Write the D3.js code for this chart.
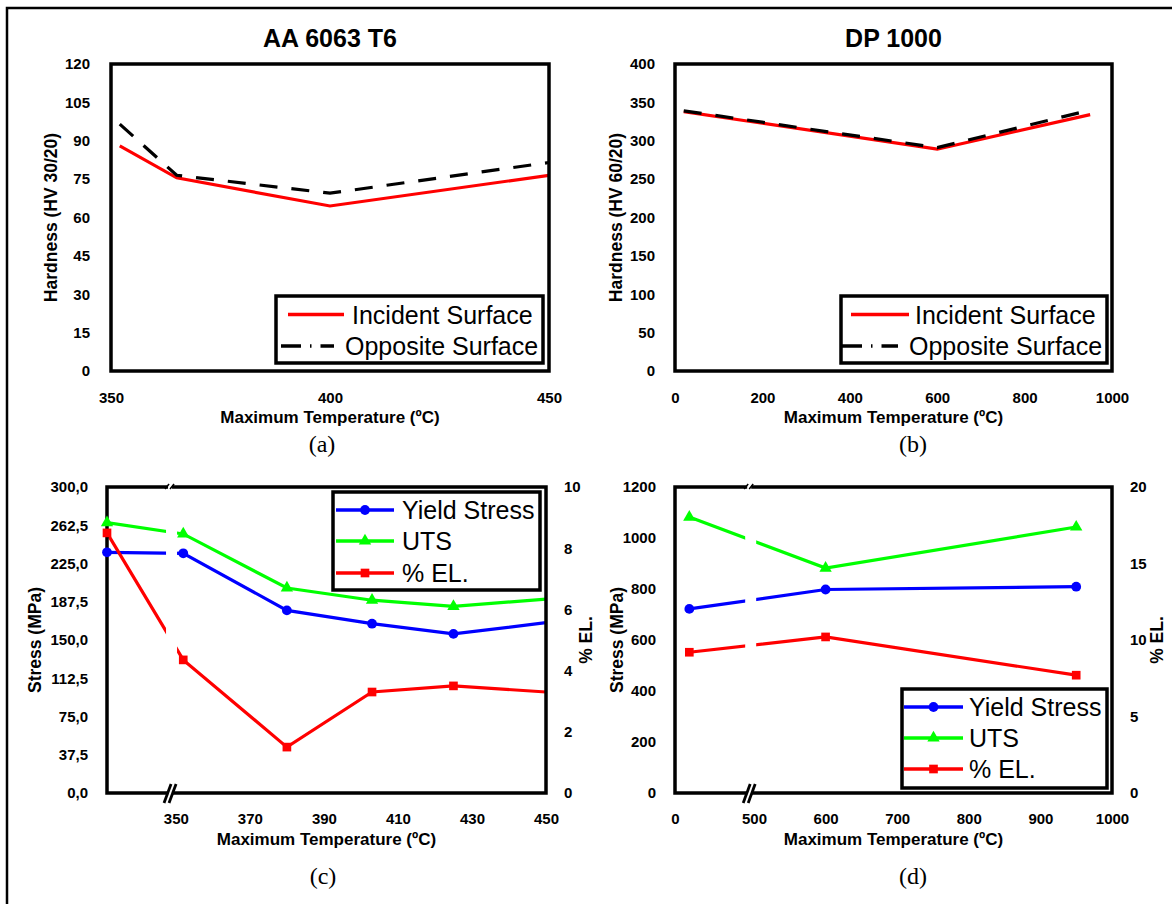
<!DOCTYPE html>
<html>
<head>
<meta charset="utf-8">
<script src="https://cdn.jsdelivr.net/npm/d3@7"></script>
<style>
body { margin: 0; background: #fff; }
</style>
</head>
<body>
<div id="canvas"></div>
<script>
"use strict"

/* values (estimated where not exact) */

// (a) AA 6063 T6 hardness
let tempA = [352, 365, 400, 450];
let incidentA = [88, 75.5, 64.5, 76.5];
let oppositeA = [96.5, 76.5, 69.5, 81.5];
let xTicksA = [350, 400, 450];
let yTicksA = [0, 15, 30, 45, 60, 75, 90, 105, 120];

// (b) DP 1000 hardness
let tempB = [20, 600, 950];
let incidentB = [338, 289, 334];
let oppositeB = [339, 291, 340];
let xTicksB = [0, 200, 400, 600, 800, 1000];
let yTicksB = [0, 50, 100, 150, 200, 250, 300, 350, 400];

// (c) AA 6063 T6 tensile (first point = base metal, left of the axis break)
let tempC = [20, 352, 380, 403, 425, 450];
let yieldC = [236, 235, 179, 166, 156, 167];
let utsC = [265, 254, 201, 189, 183, 190];
let elongC = [8.5, 4.35, 1.5, 3.3, 3.5, 3.3];
let xTicksC = [350, 370, 390, 410, 430, 450];
let yTicksC = [0, 37.5, 75, 112.5, 150, 187.5, 225, 262.5, 300];
let elTicksC = [0, 2, 4, 6, 8, 10];

// (d) DP 1000 tensile
let tempD = [20, 600, 950];
let yieldD = [722, 798, 809];
let utsD = [1082, 882, 1043];
let elongD = [9.2, 10.2, 7.7];
let xTicksD = [0, 500, 600, 700, 800, 900, 1000];
let yTicksD = [0, 200, 400, 600, 800, 1000, 1200];
let elTicksD = [0, 5, 10, 15, 20];

let surfaceNames = ["Incident Surface", "Opposite Surface"];
let tensileNames = ["Yield Stress", "UTS", "% EL."];

const RED = "#ff0000", BLUE = "#0000ff", GREEN = "#00ff00";
const SANS = "Liberation Sans, Arial, sans-serif";
const SERIF = "Liberation Serif, Times New Roman, serif";
const OPP_DASH = "18,14";

let drawing = d3.select("#canvas")
    .append("svg")
    .attr("width", 1172)
    .attr("height", 904)
    .style("font-family", SANS);

// outer frame (only top and left edges are in the picture)
drawing.append("path")
    .attr("d", "M7,904 V8 H1172")
    .attr("fill", "none")
    .attr("stroke", "black")
    .attr("stroke-width", 2.5);

// scale with a gap: lo and hi are the two visible domain pieces, same px per unit
function brokenScale(lo, hi, w) {
    let k = w / ((lo[1] - lo[0]) + (hi[1] - hi[0]));
    let b = k * (lo[1] - lo[0]);
    let s = d3.scaleLinear().domain([lo[0], lo[1], hi[0], hi[1]]).range([0, b, b, w]);
    s.breakAt = b;
    return s;
}

let commaFmt = d => d3.format(".1f")(d).replace(".", ",");
let plainFmt = d3.format("d");

function markerPath(type, size) {
    let t = type == "circle" ? d3.symbolCircle : type == "triangle" ? d3.symbolTriangle : d3.symbolSquare;
    return d3.symbol().type(t).size(size)();
}
let markerSize = { circle: 75, triangle: 66, square: 75 };

let clipCount = 0;

function styleTicks(sel) {
    sel.select(".domain").remove();
    sel.selectAll("text")
        .attr("font-size", 15)
        .attr("font-weight", "bold")
        .attr("font-family", SANS)
        .attr("fill", "black");
}

function panel(cfg) {
    let g = drawing.append("g").attr("transform", `translate(${cfg.left},${cfg.top})`);
    let w = cfg.w, h = cfg.h;

    // axes (no tick marks, just labels, like the original)
    let yAxis = d3.axisLeft(cfg.y).tickValues(cfg.yTicks).tickSize(0).tickPadding(cfg.yPad)
        .tickFormat(cfg.yFmt || plainFmt);
    g.append("g").call(yAxis).call(styleTicks);

    let xAxis = d3.axisBottom(cfg.x).tickValues(cfg.xTicks).tickSize(0).tickPadding(cfg.xPad)
        .tickFormat(plainFmt);
    g.append("g").attr("transform", `translate(0,${h})`).call(xAxis).call(styleTicks);

    if (cfg.y2) {
        let y2Axis = d3.axisRight(cfg.y2).tickValues(cfg.y2Ticks).tickSize(0).tickPadding(18)
            .tickFormat(plainFmt);
        g.append("g").attr("transform", `translate(${w},0)`).call(y2Axis).call(styleTicks);
        g.append("text")
            .attr("transform", `translate(${cfg.y2TitleX},${h / 2}) rotate(-90)`)
            .attr("text-anchor", "middle").attr("font-size", 17.5).attr("font-weight", "bold")
            .text("% EL.");
    }

    // titles
    if (cfg.title) {
        g.append("text").attr("x", w / 2).attr("y", -17)
            .attr("text-anchor", "middle").attr("font-size", 25).attr("font-weight", "bold")
            .text(cfg.title);
    }
    g.append("text").attr("x", w / 2).attr("y", h + cfg.xTitleY)
        .attr("text-anchor", "middle").attr("font-size", 17).attr("font-weight", "bold")
        .text("Maximum Temperature (ºC)");
    g.append("text")
        .attr("transform", `translate(${cfg.yTitleX},${h / 2}) rotate(-90)`)
        .attr("text-anchor", "middle").attr("font-size", 17.5).attr("font-weight", "bold")
        .text(cfg.yTitle);
    g.append("text").attr("x", cfg.labelX).attr("y", h + cfg.labelY)
        .attr("text-anchor", "middle").attr("font-size", 24)
        .style("font-family", SERIF)
        .text(cfg.label);

    // data lines, clipped to the plot frame
    let clipId = "clip" + (clipCount++);
    g.append("clipPath").attr("id", clipId)
        .append("rect").attr("x", 0).attr("y", 0).attr("width", w).attr("height", h);
    let plot = g.append("g").attr("clip-path", `url(#${clipId})`);

    cfg.series.forEach(s => {
        let ys = s.axis == "y2" ? cfg.y2 : cfg.y;
        let pts = s.xs.map((v, i) => [v, s.ys[i]]);
        let line = d3.line().x(d => cfg.x(d[0])).y(d => ys(d[1]));
        plot.append("path")
            .attr("d", line(pts))
            .attr("fill", "none")
            .attr("stroke", s.color)
            .attr("stroke-width", 3.2)
            .attr("stroke-dasharray", s.dash || null);
    });

    // white gap in the data lines at the axis break
    if (cfg.x.breakAt !== undefined) {
        plot.append("rect")
            .attr("x", cfg.x.breakAt - 5).attr("y", 3)
            .attr("width", 11).attr("height", h - 6)
            .attr("fill", "white");
    }

    // plot frame
    g.append("rect")
        .attr("width", w).attr("height", h)
        .attr("fill", "none").attr("stroke", "black").attr("stroke-width", 3.5);

    // markers sit on top of the frame (not clipped); the run-out point at the right edge has none
    cfg.series.forEach(s => {
        if (!s.marker) return;
        let ys = s.axis == "y2" ? cfg.y2 : cfg.y;
        let maxX = cfg.x.domain()[cfg.x.domain().length - 1];
        let pts = s.xs.map((v, i) => [v, s.ys[i]]).filter(d => d[0] < maxX);
        g.selectAll(null)
            .data(pts)
            .enter().append("path")
            .attr("d", markerPath(s.marker, markerSize[s.marker]))
            .attr("transform", d => `translate(${cfg.x(d[0])},${ys(d[1])})`)
            .attr("fill", s.color);
    });

    // axis break marks
    if (cfg.x.breakAt !== undefined) {
        let b = cfg.x.breakAt;
        g.append("path")
            .attr("d", `M${b - 7},${h + 10} L${b - 1},${h - 8} L${b + 4},${h - 8} L${b - 2},${h + 10} Z`)
            .attr("fill", "white");
        [-7, -2].forEach(dx => {
            g.append("line")
                .attr("x1", b + dx).attr("y1", h + 10)
                .attr("x2", b + dx + 7).attr("y2", h - 9)
                .attr("stroke", "black").attr("stroke-width", 2.8);
        });
        g.append("rect").attr("x", b - 3).attr("y", -3).attr("width", 4).attr("height", 6).attr("fill", "white");
        [-4, 1].forEach(dx => {
            g.append("line")
                .attr("x1", b + dx - 2).attr("y1", 2)
                .attr("x2", b + dx + 2).attr("y2", -3)
                .attr("stroke", "black").attr("stroke-width", 1.5);
        });
    }

    // legend
    let L = cfg.legend;
    drawing.append("rect")
        .attr("x", L.x).attr("y", L.y).attr("width", L.w).attr("height", L.h)
        .attr("fill", "white").attr("stroke", "black").attr("stroke-width", 3.5);
    L.rows.forEach((r, i) => {
        let s = cfg.series[i];
        drawing.append("line")
            .attr("x1", r.x0).attr("x2", r.x1).attr("y1", r.y).attr("y2", r.y)
            .attr("stroke", s.color).attr("stroke-width", 3.5)
            .attr("stroke-dasharray", s.dash ? "20,9,1.5,9" : null);
        if (s.marker) {
            drawing.append("path")
                .attr("d", markerPath(s.marker, markerSize[s.marker]))
                .attr("transform", `translate(${(r.x0 + r.x1) / 2},${r.y})`)
                .attr("fill", s.color);
        }
        drawing.append("text")
            .attr("x", r.tx).attr("y", r.y + 9)
            .attr("font-size", 25)
            .text(s.name);
    });
}

// (a)
panel({
    left: 111, top: 64, w: 438, h: 307,
    x: d3.scaleLinear().domain([350, 450]).range([0, 438]),
    y: d3.scaleLinear().domain([0, 120]).range([307, 0]),
    xTicks: xTicksA, yTicks: yTicksA, yPad: 21, xPad: 21,
    title: "AA 6063 T6", yTitle: "Hardness (HV 30/20)", yTitleX: -54,
    xTitleY: 52, label: "(a)", labelX: 211, labelY: 81,
    series: [
        { name: surfaceNames[0], xs: tempA, ys: incidentA, color: RED },
        { name: surfaceNames[1], xs: tempA, ys: oppositeA, color: "black", dash: OPP_DASH }
    ],
    legend: { x: 276, y: 296, w: 267, h: 67, rows: [
        { x0: 288, x1: 344, y: 314.5, tx: 352 },
        { x0: 281, x1: 334, y: 346, tx: 345 }
    ] }
});

// (b)
panel({
    left: 675, top: 64, w: 437, h: 307,
    x: d3.scaleLinear().domain([0, 1000]).range([0, 437]),
    y: d3.scaleLinear().domain([0, 400]).range([307, 0]),
    xTicks: xTicksB, yTicks: yTicksB, yPad: 20, xPad: 21,
    title: "DP 1000", yTitle: "Hardness (HV 60/20)", yTitleX: -53,
    xTitleY: 52, label: "(b)", labelX: 238, labelY: 81,
    series: [
        { name: surfaceNames[0], xs: tempB, ys: incidentB, color: RED },
        { name: surfaceNames[1], xs: tempB, ys: oppositeB, color: "black", dash: OPP_DASH }
    ],
    legend: { x: 841, y: 296, w: 266, h: 67, rows: [
        { x0: 851, x1: 909, y: 314.5, tx: 915 },
        { x0: 842, x1: 898, y: 346, tx: 909 }
    ] }
});

// (c)
panel({
    left: 107, top: 487, w: 439, h: 306,
    x: brokenScale([20, 37.3], [348.7, 450], 439),
    y: d3.scaleLinear().domain([0, 300]).range([306, 0]),
    y2: d3.scaleLinear().domain([0, 10]).range([306, 0]),
    xTicks: xTicksC, yTicks: yTicksC, yFmt: commaFmt, y2Ticks: elTicksC, y2TitleX: 485,
    yPad: 19, xPad: 20,
    yTitle: "Stress (MPa)", yTitleX: -66,
    xTitleY: 52, label: "(c)", labelX: 216, labelY: 91,
    series: [
        { name: tensileNames[0], xs: tempC, ys: yieldC, color: BLUE, marker: "circle" },
        { name: tensileNames[1], xs: tempC, ys: utsC, color: GREEN, marker: "triangle" },
        { name: tensileNames[2], xs: tempC, ys: elongC, color: RED, marker: "square", axis: "y2" }
    ],
    legend: { x: 333, y: 492, w: 207, h: 98, rows: [
        { x0: 336, x1: 394, y: 510, tx: 402 },
        { x0: 336, x1: 394, y: 541, tx: 402 },
        { x0: 336, x1: 394, y: 573, tx: 402 }
    ] }
});

// (d)
panel({
    left: 675, top: 487, w: 437, h: 306,
    x: brokenScale([0, 105], [494.7, 1000], 437),
    y: d3.scaleLinear().domain([0, 1200]).range([306, 0]),
    y2: d3.scaleLinear().domain([0, 20]).range([306, 0]),
    xTicks: xTicksD, yTicks: yTicksD, y2Ticks: elTicksD, y2TitleX: 488,
    yPad: 19, xPad: 20,
    yTitle: "Stress (MPa)", yTitleX: -52,
    xTitleY: 52, label: "(d)", labelX: 238, labelY: 91,
    series: [
        { name: tensileNames[0], xs: tempD, ys: yieldD, color: BLUE, marker: "circle" },
        { name: tensileNames[1], xs: tempD, ys: utsD, color: GREEN, marker: "triangle" },
        { name: tensileNames[2], xs: tempD, ys: elongD, color: RED, marker: "square", axis: "y2" }
    ],
    legend: { x: 902, y: 689, w: 205, h: 99, rows: [
        { x0: 904, x1: 963, y: 707, tx: 969 },
        { x0: 904, x1: 963, y: 738, tx: 969 },
        { x0: 904, x1: 963, y: 769, tx: 969 }
    ] }
});
</script>
</body>
</html>
